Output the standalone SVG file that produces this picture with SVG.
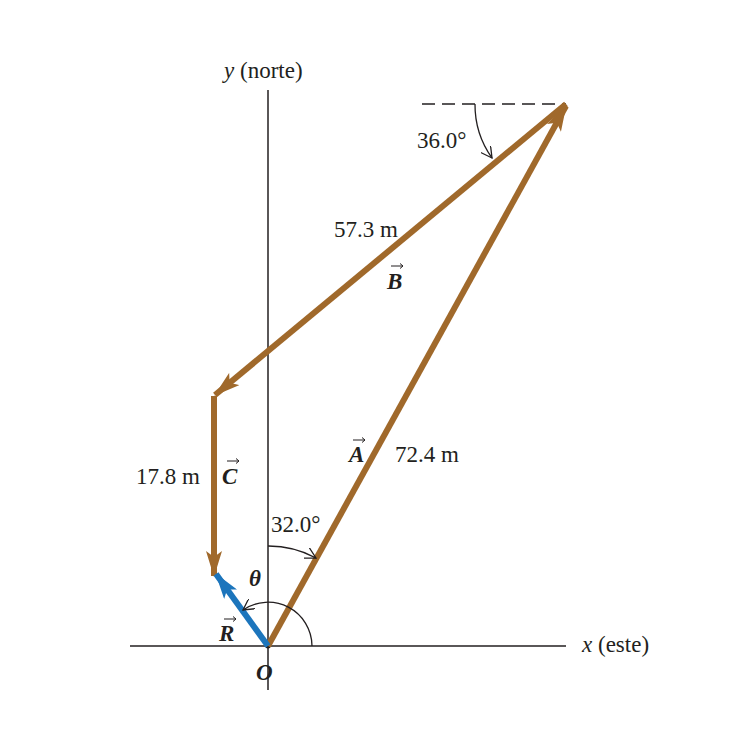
<svg xmlns="http://www.w3.org/2000/svg" width="750" height="750" viewBox="0 0 750 750">
<defs>
<style>
.t{font-family:"Liberation Serif","Times New Roman",serif;font-size:23px;fill:#231f20}
.i{font-style:italic}
.v{font-style:italic;font-weight:bold}
.ax{stroke:#231f20;stroke-width:1.5;fill:none}
.arc{stroke:#231f20;stroke-width:1.3;fill:none}
.br{stroke:#A0692B;stroke-width:6;fill:none}
.bl{stroke:#1C75BC;stroke-width:6;fill:none}
.va{stroke:#231f20;stroke-width:1;fill:none}
</style>
<marker id="hb" viewBox="0 0 26 16" refX="25" refY="8" markerWidth="26" markerHeight="16" markerUnits="userSpaceOnUse" orient="auto">
<path d="M0,0 L26,8 L0,16 L6,8 Z" fill="#A0692B"/>
</marker>
<marker id="hl" viewBox="0 0 26 16" refX="25" refY="8" markerWidth="26" markerHeight="16" markerUnits="userSpaceOnUse" orient="auto">
<path d="M0,0 L26,8 L0,16 L6,8 Z" fill="#1C75BC"/>
</marker>
<marker id="ha" viewBox="0 0 12 12" refX="11" refY="6" markerWidth="12" markerHeight="12" markerUnits="userSpaceOnUse" orient="auto">
<path d="M0,0 L11,6 L0,12" fill="none" stroke="#231f20" stroke-width="1.3"/>
</marker>
</defs>
<rect width="750" height="750" fill="#fff"/>
<g id="axes">
<line class="ax" x1="268" y1="90" x2="268" y2="690"/>
<line class="ax" x1="130" y1="646" x2="566" y2="646"/>
<line class="ax" x1="422" y1="104" x2="566" y2="104" stroke-dasharray="13,7"/>
<text class="t" x="224" y="78"><tspan class="i">y</tspan> (norte)</text>
<text class="t" x="582" y="652"><tspan class="i">x</tspan> (este)</text>
<text class="t v" x="256" y="680">O</text>
<circle cx="268" cy="646" r="2.5" fill="#231f20"/>
</g>
<g id="connectors">
<line class="br" x1="268" y1="646" x2="566" y2="106" marker-end="url(#hb)"/>
<line class="br" x1="566" y1="104" x2="215" y2="395" marker-end="url(#hb)"/>
<line class="br" x1="214" y1="396" x2="214" y2="576" marker-end="url(#hb)"/>
<line class="bl" x1="268" y1="646" x2="216" y2="574" marker-end="url(#hl)"/>
</g>
<g id="angles">
<path class="arc" d="M475,104 A92,92 0 0 0 492,158" marker-end="url(#ha)"/>
<path class="arc" d="M268,546 A100,100 0 0 1 316,558" marker-end="url(#ha)"/>
<path class="arc" d="M312,646 A44,44 0 0 0 243,610" marker-end="url(#ha)"/>
<text class="t" x="417" y="148">36.0°</text>
<text class="t" x="271" y="532">32.0°</text>
<text class="t v" x="249" y="586">θ</text>
</g>
<g id="vecA">
<text class="t" x="395" y="462">72.4 m</text>
<text class="t v" x="349" y="462">A</text>
<path class="va" d="M353,440 H365 M362,437.5 L365,440 L362,442.5"/>
</g>
<g id="vecB">
<text class="t" x="334" y="237">57.3 m</text>
<text class="t v" x="387" y="289">B</text>
<path class="va" d="M391,266 H403 M400,263.5 L403,266 L400,268.5"/>
</g>
<g id="vecC">
<text class="t" x="136" y="484">17.8 m</text>
<text class="t v" x="222" y="484">C</text>
<path class="va" d="M227,461 H239 M236,458.5 L239,461 L236,463.5"/>
</g>
<g id="vecR">
<text class="t v" x="219" y="641">R</text>
<path class="va" d="M224,619 H236 M233,616.5 L236,619 L233,621.5"/>
</g>
</svg>
